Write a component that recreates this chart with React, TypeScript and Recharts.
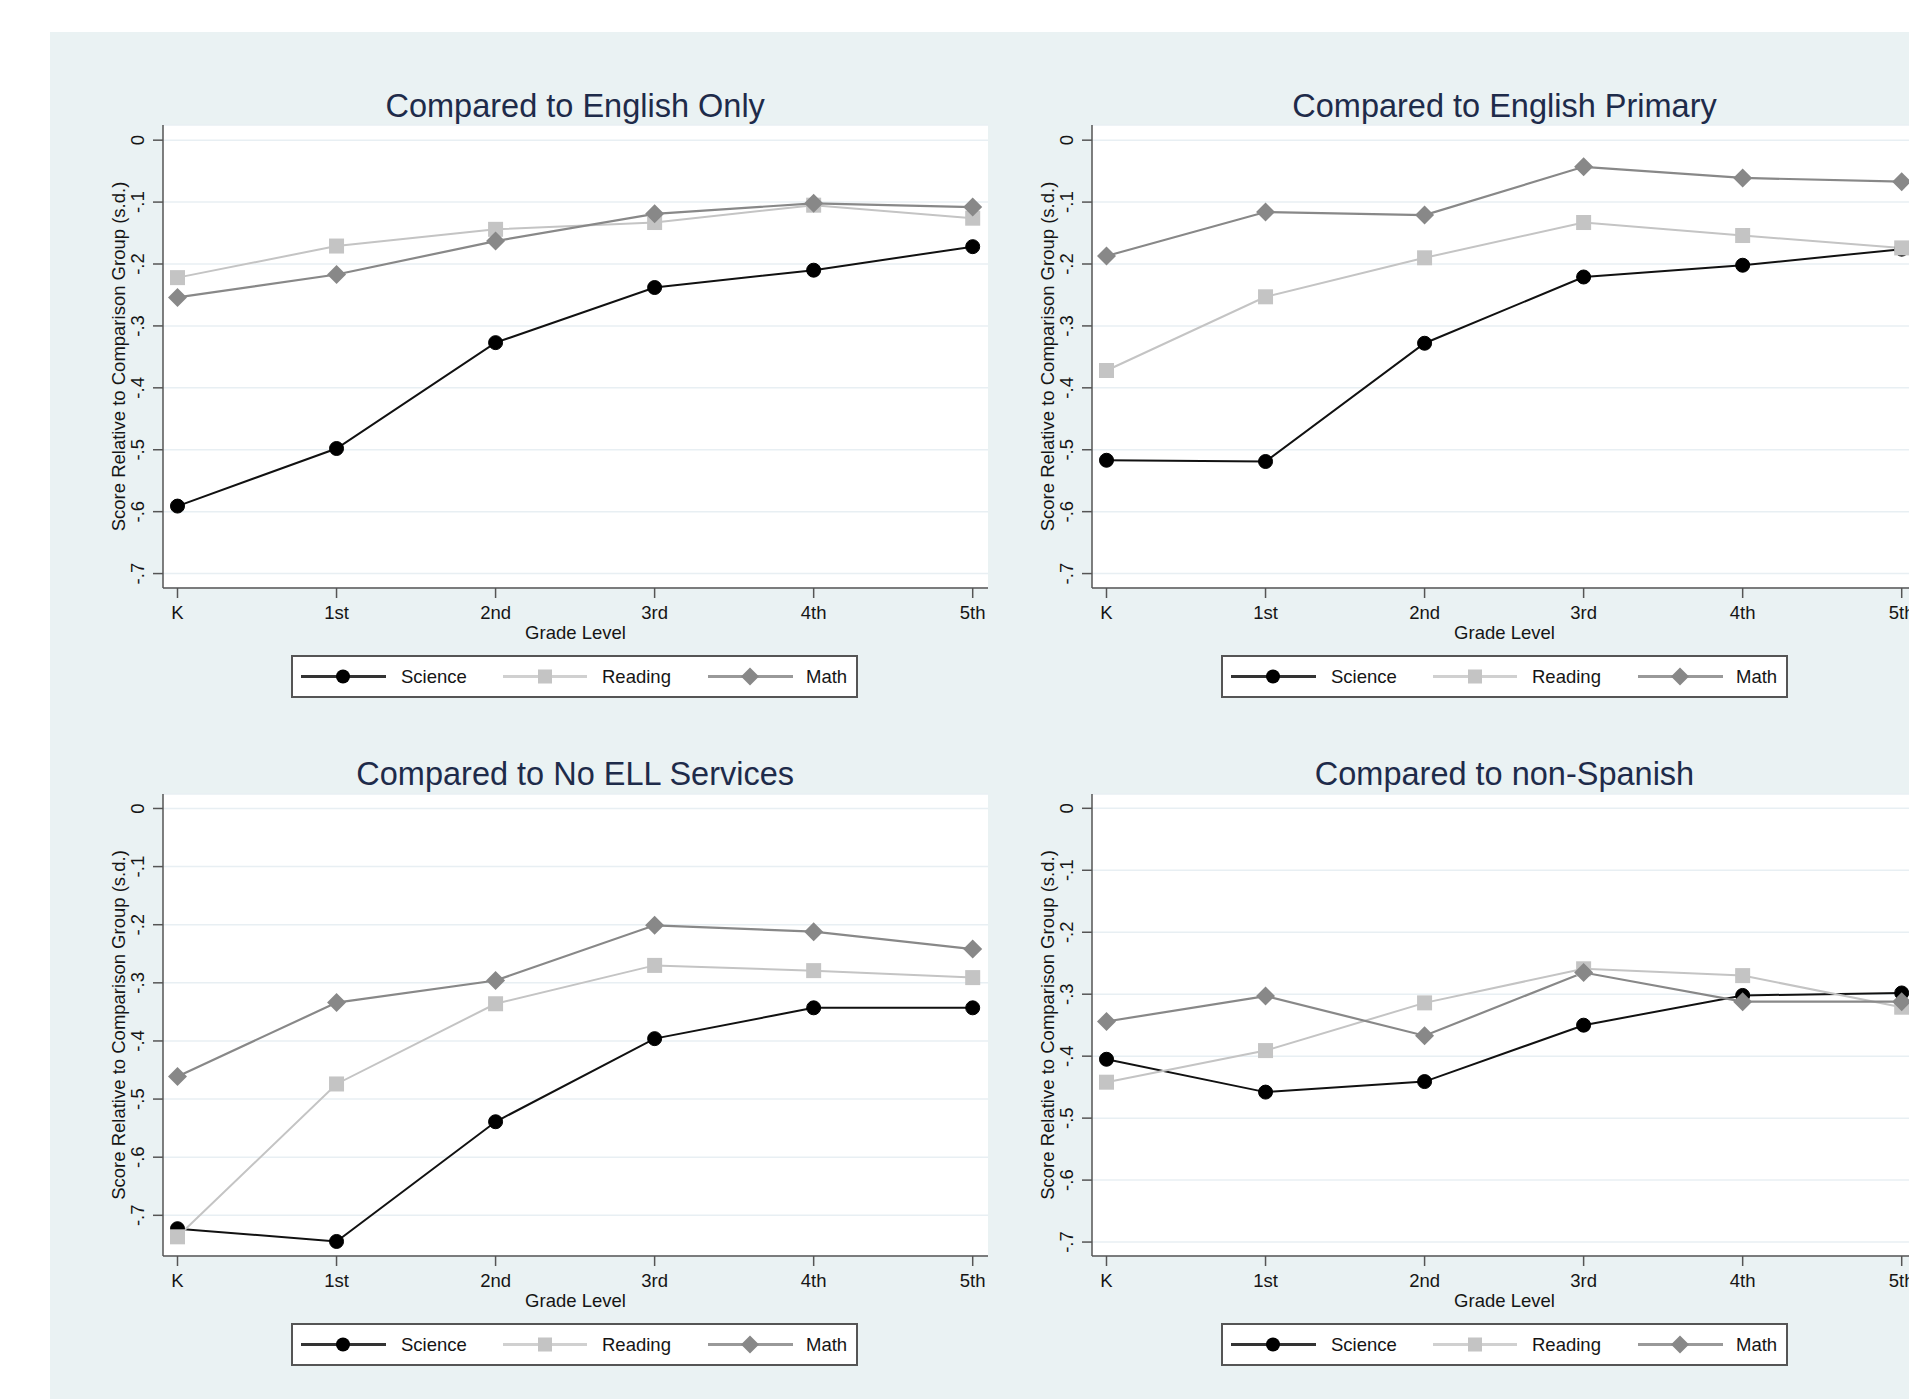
import React from 'react';
import { LineChart, Line, XAxis, YAxis, CartesianGrid } from 'recharts';

// Grade levels on the x axis
const grades = ['K', '1st', '2nd', '3rd', '4th', '5th'];
const yTicks = [0, -0.1, -0.2, -0.3, -0.4, -0.5, -0.6, -0.7];

// Compared to English Only
const scienceEnglishOnly = [-0.591, -0.498, -0.327, -0.238, -0.21, -0.172];
const readingEnglishOnly = [-0.222, -0.171, -0.144, -0.133, -0.105, -0.126];
const mathEnglishOnly = [-0.254, -0.217, -0.163, -0.119, -0.102, -0.108];

// Compared to English Primary
const scienceEnglishPrimary = [-0.517, -0.519, -0.328, -0.221, -0.202, -0.176];
const readingEnglishPrimary = [-0.372, -0.253, -0.19, -0.133, -0.154, -0.174];
const mathEnglishPrimary = [-0.187, -0.116, -0.121, -0.043, -0.061, -0.067];

// Compared to No ELL Services
const scienceNoEll = [-0.723, -0.745, -0.539, -0.396, -0.343, -0.343];
const readingNoEll = [-0.737, -0.474, -0.336, -0.27, -0.279, -0.291];
const mathNoEll = [-0.461, -0.334, -0.296, -0.201, -0.212, -0.242];

// Compared to non-Spanish
const scienceNonSpanish = [-0.405, -0.458, -0.441, -0.35, -0.302, -0.298];
const readingNonSpanish = [-0.442, -0.391, -0.314, -0.259, -0.27, -0.321];
const mathNonSpanish = [-0.344, -0.303, -0.367, -0.265, -0.312, -0.312];

const FONT = '"Liberation Sans", Arial, sans-serif';
const TEXT = '#151515';
const AXIS = '#555';
const BG = '#eaf2f3';

const SCIENCE = '#111';
const READING = '#c4c4c4';
const MATH = '#888';

const PLOT_W = 825;
const LEFT_M = 40;
const Y_AXIS_W = 60;
const X_AXIS_H = 70;
const TOP_M = 10;

function buildRows(science: number[], reading: number[], math: number[]) {
  return grades.map((grade, i) => ({
    grade,
    science: science[i],
    reading: reading[i],
    math: math[i],
  }));
}

const fmtTick = (v: number) => (v === 0 ? '0' : '-.' + Math.round(-v * 10));

function YTick({ x, y, payload }: any) {
  const tx = x - 15.4;
  return (
    <text
      x={tx}
      y={y}
      transform={`rotate(-90 ${tx} ${y})`}
      textAnchor="middle"
      dominantBaseline="central"
      fontSize={18.5}
      fill={TEXT}
    >
      {fmtTick(payload.value)}
    </text>
  );
}

function YLabel({ viewBox }: any) {
  const cx = viewBox.x + viewBox.width - 44.7;
  const cy = viewBox.y + viewBox.height / 2;
  return (
    <text
      x={cx}
      y={cy}
      transform={`rotate(-90 ${cx} ${cy})`}
      textAnchor="middle"
      dominantBaseline="central"
      fontSize={18.5}
      fill={TEXT}
    >
      Score Relative to Comparison Group (s.d.)
    </text>
  );
}

function XLabel({ viewBox }: any) {
  const cx = viewBox.x + viewBox.width / 2;
  const cy = viewBox.y + 44.5;
  return (
    <text x={cx} y={cy} textAnchor="middle" dominantBaseline="central" fontSize={18.5} fill={TEXT}>
      Grade Level
    </text>
  );
}

function SquareDot({ cx, cy, index }: any) {
  if (cx == null || cy == null) return null;
  return <rect key={index} x={cx - 7.5} y={cy - 7.5} width={15} height={15} fill={READING} />;
}

function DiamondDot({ cx, cy, index }: any) {
  if (cx == null || cy == null) return null;
  const r = 9.5;
  return (
    <polygon
      key={index}
      points={`${cx},${cy - r} ${cx + r},${cy} ${cx},${cy + r} ${cx - r},${cy}`}
      fill={MATH}
    />
  );
}

function LegendBox({ left, top }: { left: number; top: number }) {
  const cy = 21.5;
  return (
    <svg
      style={{ position: 'absolute', left, top, fontFamily: FONT }}
      width={568}
      height={44}
    >
      <rect x={1} y={1} width={565} height={41} fill="#fff" stroke={AXIS} strokeWidth={2} />
      <line x1={10} x2={95} y1={cy} y2={cy} stroke="#333" strokeWidth={3} />
      <circle cx={52} cy={cy} r={7} fill="#000" />
      <text x={110} y={cy} dominantBaseline="central" fontSize={18.5} fill={TEXT}>
        Science
      </text>
      <line x1={212} x2={296} y1={cy} y2={cy} stroke="#d0d0d0" strokeWidth={3} />
      <rect x={247} y={cy - 7} width={14} height={14} fill={READING} />
      <text x={311} y={cy} dominantBaseline="central" fontSize={18.5} fill={TEXT}>
        Reading
      </text>
      <line x1={417} x2={502} y1={cy} y2={cy} stroke="#999" strokeWidth={3} />
      <polygon
        points={`459,${cy - 9} 468,${cy} 459,${cy + 9} 450,${cy}`}
        fill={MATH}
      />
      <text x={515} y={cy} dominantBaseline="central" fontSize={18.5} fill={TEXT}>
        Math
      </text>
    </svg>
  );
}

interface PanelProps {
  title: string;
  plotLeft: number;
  plotTop: number;
  plotH: number;
  domain: [number, number];
  rows: { grade: string; science: number; reading: number; math: number }[];
}

function Panel({ title, plotLeft, plotTop, plotH, domain, rows }: PanelProps) {
  const width = LEFT_M + Y_AXIS_W + PLOT_W;
  const height = TOP_M + plotH + X_AXIS_H;
  return (
    <>
      <div
        style={{
          position: 'absolute',
          left: plotLeft,
          top: plotTop - 19.7 - 20,
          width: PLOT_W,
          height: 40,
          lineHeight: '40px',
          textAlign: 'center',
          fontSize: 32.5,
          color: '#1e2b4a',
          whiteSpace: 'nowrap',
        }}
      >
        {title}
      </div>
      <div style={{ position: 'absolute', left: plotLeft - LEFT_M - Y_AXIS_W, top: plotTop - TOP_M }}>
        <LineChart
          width={width}
          height={height}
          data={rows}
          margin={{ top: TOP_M, right: 0, bottom: 0, left: LEFT_M }}
        >
          <CartesianGrid vertical={false} fill="#fff" stroke="#e8eff3" strokeWidth={1.5} />
          <XAxis
            dataKey="grade"
            type="category"
            scale="point"
            height={X_AXIS_H}
            padding={{ left: 14.5, right: 15.3 }}
            tickSize={10}
            tickMargin={8}
            interval={0}
            axisLine={{ stroke: AXIS, strokeWidth: 1.5 }}
            tickLine={{ stroke: AXIS, strokeWidth: 1.5 }}
            tick={{ fill: TEXT, fontSize: 18.5 }}
            label={XLabel}
          />
          <YAxis
            type="number"
            width={Y_AXIS_W}
            domain={domain}
            allowDataOverflow
            ticks={yTicks}
            interval={0}
            tickSize={10}
            tickMargin={0}
            axisLine={{ stroke: AXIS, strokeWidth: 1.5 }}
            tickLine={{ stroke: AXIS, strokeWidth: 1.5 }}
            tick={<YTick />}
            label={YLabel}
          />
          <Line
            type="linear"
            dataKey="science"
            stroke={SCIENCE}
            strokeWidth={2}
            dot={{ r: 7, fill: '#000', stroke: '#000', strokeWidth: 1 }}
            isAnimationActive={false}
          />
          <Line
            type="linear"
            dataKey="reading"
            stroke={READING}
            strokeWidth={2}
            dot={SquareDot}
            isAnimationActive={false}
          />
          <Line
            type="linear"
            dataKey="math"
            stroke={MATH}
            strokeWidth={2.2}
            dot={DiamondDot}
            isAnimationActive={false}
          />
        </LineChart>
      </div>
      <LegendBox left={plotLeft + 128.6} top={plotTop + 529.7} />
    </>
  );
}

const panels: PanelProps[] = [
  {
    title: 'Compared to English Only',
    plotLeft: 162.7,
    plotTop: 125.3,
    plotH: 463,
    domain: [-0.7233, 0.0245],
    rows: buildRows(scienceEnglishOnly, readingEnglishOnly, mathEnglishOnly),
  },
  {
    title: 'Compared to English Primary',
    plotLeft: 1092,
    plotTop: 125.3,
    plotH: 463,
    domain: [-0.7233, 0.0245],
    rows: buildRows(scienceEnglishPrimary, readingEnglishPrimary, mathEnglishPrimary),
  },
  {
    title: 'Compared to No ELL Services',
    plotLeft: 162.7,
    plotTop: 793.6,
    plotH: 462,
    domain: [-0.77, 0.0249],
    rows: buildRows(scienceNoEll, readingNoEll, mathNoEll),
  },
  {
    title: 'Compared to non-Spanish',
    plotLeft: 1092,
    plotTop: 793.6,
    plotH: 462,
    domain: [-0.7225, 0.0231],
    rows: buildRows(scienceNonSpanish, readingNonSpanish, mathNonSpanish),
  },
];

export default function App() {
  return (
    <div
      style={{
        position: 'fixed',
        left: 0,
        top: 0,
        width: 1909,
        height: 1399,
        overflow: 'hidden',
        background: '#fff',
        fontFamily: FONT,
      }}
    >
      <div style={{ position: 'absolute', left: 50, top: 31.5, right: 0, bottom: 0, background: BG }} />
      {panels.map((p) => (
        <Panel key={p.title} {...p} />
      ))}
    </div>
  );
}
